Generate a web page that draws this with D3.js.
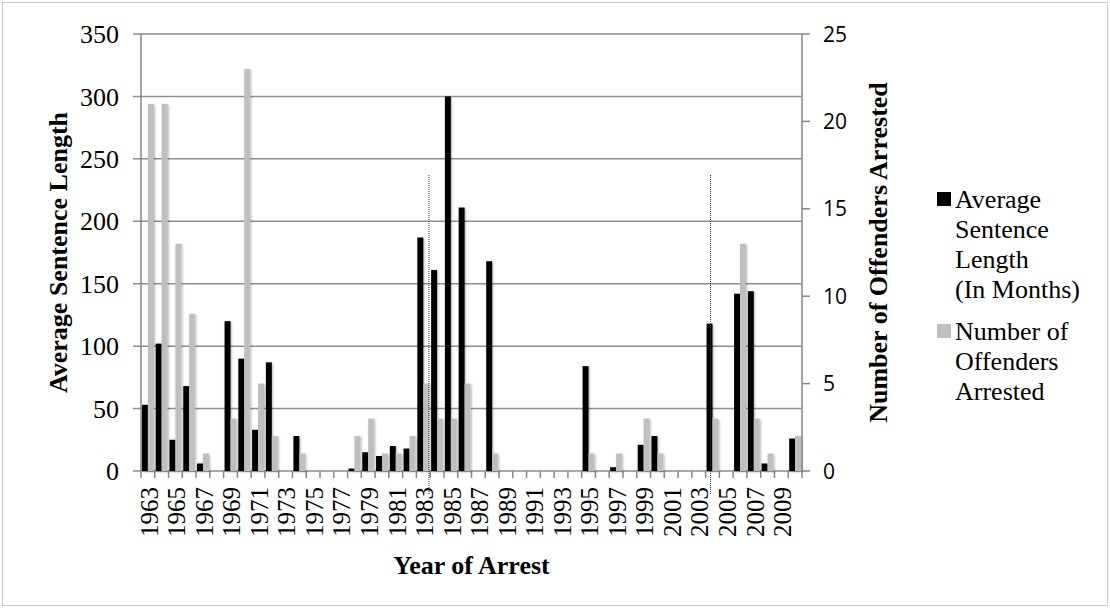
<!DOCTYPE html>
<html lang="en">
<head>
    <meta charset="UTF-8">
    <title>Average Sentence Length and Offenders Arrested by Year</title>
    <script src="https://d3js.org/d3.v7.min.js"></script>
    <style>
        body { margin: 0; background: #fff; }
        svg { display: block; }
        .serif { font-family: "Liberation Serif", "Times New Roman", serif; fill: #000; }
        .sans { font-family: "Open Sans", "Liberation Sans", sans-serif; fill: #000; }
        .grid { stroke: #8e8e8e; stroke-width: 1.5; }
        .axisline { stroke: #868686; stroke-width: 1.5; }
    </style>
</head>
<body>
<div id="chart"></div>
<script>
    // Categories: year of arrest
    const years = ["1963", "1964", "1965", "1966", "1967", "1968", "1969", "1970", "1971", "1972",
                   "1973", "1974", "1975", "1976", "1977", "1978", "1979", "1980", "1981", "1982",
                   "1983", "1984", "1985", "1986", "1987", "1988", "1989", "1990", "1991", "1992",
                   "1993", "1994", "1995", "1996", "1997", "1998", "1999", "2000", "2001", "2002",
                   "2003", "2004", "2005", "2006", "2007", "2008", "2009", "2010"];

    // Average sentence length (in months), left axis
    const sentenceMonths = [53, 102, 25, 68, 6, 0, 120, 90, 33, 87,
                            0, 28, 0, 0, 0, 2, 15, 12, 20, 18,
                            187, 161, 300, 211, 0, 168, 0, 0, 0, 0,
                            0, 0, 84, 0, 3, 0, 21, 28, 0, 0,
                            0, 118, 0, 142, 144, 6, 0, 26];

    // Number of offenders arrested, right axis
    const offendersArrested = [21, 21, 13, 9, 1, 0, 3, 23, 5, 2,
                               0, 1, 0, 0, 0, 2, 3, 1, 1, 2,
                               5, 3, 3, 5, 0, 1, 0, 0, 0, 0,
                               0, 0, 1, 0, 1, 0, 3, 1, 0, 0,
                               0, 3, 0, 13, 3, 1, 0, 2];

    const leftTicks = [0, 50, 100, 150, 200, 250, 300, 350];
    const rightTicks = [0, 5, 10, 15, 20, 25];
    const yearLabels = years.filter((d, i) => i % 2 === 0);

    const seriesNames = ["Average Sentence Length (In Months)", "Number of Offenders Arrested"];
    const legendLines = [["Average", "Sentence", "Length", "(In Months)"], ["Number of", "Offenders", "Arrested"]];
    const seriesColors = ["#000000", "#bfbfbf"];

    // dotted reference lines drawn on the chart (year, fraction across the band)
    const markers = [["1983", 0.91], ["2004", 0.36]];

    const width = 1110, height = 608;
    const plot = { left: 141, right: 802, top: 34, bottom: 471 };

    const svg = d3.select("#chart").append("svg")
        .attr("width", width)
        .attr("height", height);

    const defs = svg.append("defs");
    defs.append("filter")
        .attr("id", "shadow")
        .attr("x", "-60%").attr("y", "-5%")
        .attr("width", "220%").attr("height", "115%")
        .append("feDropShadow")
        .attr("dx", 1).attr("dy", 1)
        .attr("stdDeviation", 1)
        .attr("flood-color", "#000")
        .attr("flood-opacity", 0.3);

    // outer chart border
    svg.append("rect")
        .attr("x", 2.5).attr("y", 2.5)
        .attr("width", width - 5).attr("height", height - 5)
        .attr("fill", "none")
        .attr("stroke", "#c8c8c8");

    const x = d3.scaleBand().domain(years).range([plot.left, plot.right]).padding(0);
    const inner = d3.scaleBand().domain([0, 1]).range([0, x.bandwidth()]).paddingInner(0).paddingOuter(0.16);
    const yLeft = d3.scaleLinear().domain([0, 350]).range([plot.bottom, plot.top]);
    const yRight = d3.scaleLinear().domain([0, 25]).range([plot.bottom, plot.top]);

    // gridlines
    svg.append("g")
        .selectAll("line")
        .data(leftTicks)
        .enter().append("line")
        .attr("class", "grid")
        .attr("x1", plot.left - 8).attr("x2", plot.right)
        .attr("y1", d => yLeft(d)).attr("y2", d => yLeft(d));

    // axis lines
    svg.append("line").attr("class", "axisline")
        .attr("x1", plot.left).attr("x2", plot.left)
        .attr("y1", plot.top).attr("y2", plot.bottom);
    svg.append("line").attr("class", "axisline")
        .attr("x1", plot.right).attr("x2", plot.right)
        .attr("y1", plot.top).attr("y2", plot.bottom);

    // right ticks
    svg.append("g")
        .selectAll("line")
        .data(rightTicks)
        .enter().append("line")
        .attr("class", "axisline")
        .attr("x1", plot.right).attr("x2", plot.right + 8)
        .attr("y1", d => yRight(d)).attr("y2", d => yRight(d));

    // category ticks at band boundaries
    const boundaries = years.map(d => x(d)).concat([x(years[years.length - 1]) + x.bandwidth()]);
    svg.append("g")
        .selectAll("line")
        .data(boundaries)
        .enter().append("line")
        .attr("class", "axisline")
        .attr("x1", d => d).attr("x2", d => d)
        .attr("y1", plot.bottom).attr("y2", plot.bottom + 7);

    // bars
    const barData = years.map((yr, i) => ({ year: yr, s: sentenceMonths[i], n: offendersArrested[i] }));
    const bars = svg.append("g").attr("filter", "url(#shadow)");

    bars.selectAll("rect.sentence")
        .data(barData.filter(d => d.s > 0))
        .enter().append("rect")
        .attr("class", "sentence")
        .attr("x", d => x(d.year) + inner(0))
        .attr("width", inner.bandwidth())
        .attr("y", d => yLeft(d.s))
        .attr("height", d => yLeft(0) - yLeft(d.s))
        .attr("fill", seriesColors[0]);

    bars.selectAll("rect.offenders")
        .data(barData.filter(d => d.n > 0))
        .enter().append("rect")
        .attr("class", "offenders")
        .attr("x", d => x(d.year) + inner(1))
        .attr("width", inner.bandwidth())
        .attr("y", d => yRight(d.n))
        .attr("height", d => yRight(0) - yRight(d.n))
        .attr("fill", seriesColors[1]);

    // left tick labels
    svg.append("g")
        .selectAll("text")
        .data(leftTicks)
        .enter().append("text")
        .attr("class", "serif")
        .attr("x", 119)
        .attr("y", d => yLeft(d))
        .attr("dy", "0.35em")
        .attr("text-anchor", "end")
        .style("font-size", "26px")
        .text(d => d);

    // right tick labels
    svg.append("g")
        .selectAll("text")
        .data(rightTicks)
        .enter().append("text")
        .attr("class", "sans")
        .attr("x", 823)
        .attr("y", d => yRight(d))
        .attr("dy", "0.36em")
        .style("font-size", "21px")
        .text(d => d);

    // year labels, rotated
    svg.append("g")
        .selectAll("text")
        .data(yearLabels)
        .enter().append("text")
        .attr("class", "serif")
        .attr("transform", d => `translate(${x(d) + x.bandwidth() / 2 + 1},${plot.bottom + 16}) rotate(-90)`)
        .attr("dy", "0.35em")
        .attr("text-anchor", "end")
        .style("font-size", "25px")
        .text(d => d);

    // axis titles
    svg.append("text")
        .attr("class", "serif")
        .attr("transform", `translate(67,${(plot.top + plot.bottom) / 2}) rotate(-90)`)
        .attr("text-anchor", "middle")
        .style("font-size", "26px").style("font-weight", "bold")
        .text("Average Sentence Length");

    svg.append("text")
        .attr("class", "serif")
        .attr("transform", `translate(887,${(plot.top + plot.bottom) / 2}) rotate(-90)`)
        .attr("text-anchor", "middle")
        .style("font-size", "26px").style("font-weight", "bold")
        .text("Number of Offenders Arrested");

    svg.append("text")
        .attr("class", "serif")
        .attr("x", (plot.left + plot.right) / 2)
        .attr("y", 574)
        .attr("text-anchor", "middle")
        .style("font-size", "26px").style("font-weight", "bold")
        .text("Year of Arrest");

    // dotted markers
    svg.append("g")
        .selectAll("line")
        .data(markers)
        .enter().append("line")
        .attr("x1", d => x(d[0]) + x.bandwidth() * d[1])
        .attr("x2", d => x(d[0]) + x.bandwidth() * d[1])
        .attr("y1", 175).attr("y2", 495)
        .attr("stroke", "#333")
        .attr("stroke-width", 1)
        .attr("stroke-dasharray", "1,1");

    // legend
    const legend = svg.append("g").attr("transform", "translate(937,0)");
    const legendTop = [208, 340];
    legendLines.forEach((lines, i) => {
        const g = legend.append("g").attr("transform", `translate(0,${legendTop[i]})`);
        g.append("rect")
            .attr("x", 0).attr("y", -16)
            .attr("width", 14).attr("height", 14)
            .attr("fill", seriesColors[i]);
        g.append("title").text(seriesNames[i]);
        g.selectAll("text")
            .data(lines)
            .enter().append("text")
            .attr("class", "serif")
            .attr("x", 18)
            .attr("y", (d, j) => j * 30)
            .style("font-size", "26px")
            .text(d => d);
    });
</script>
</body>
</html>
